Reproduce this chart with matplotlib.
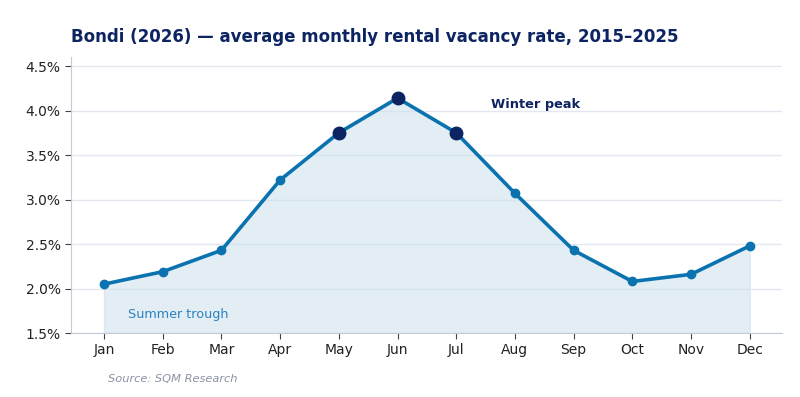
import numpy as np
import matplotlib.pyplot as plt

months = ['Jan', 'Feb', 'Mar', 'Apr', 'May', 'Jun', 'Jul', 'Aug', 'Sep', 'Oct', 'Nov', 'Dec']
vacancy = [2.05, 2.19, 2.43, 3.22, 3.75, 4.14, 3.75, 3.07, 2.43, 2.08, 2.16, 2.48]
peak_months = [4, 5, 6]
yticks = [1.5, 2.0, 2.5, 3.0, 3.5, 4.0, 4.5]

line_col = '#0b72b0'
navy = '#0d2463'

fig = plt.figure(figsize=(8, 3.97), dpi=100)
ax = fig.add_axes([0.089, 0.161, 0.8885, 0.695])

x = np.arange(len(months))
ax.fill_between(x, vacancy, 1.5, color='#cfe1ee', alpha=0.6, zorder=1)
ax.plot(x, vacancy, color=line_col, lw=2.6, marker='o', ms=6, zorder=3)
px = [x[i] for i in peak_months]
py = [vacancy[i] for i in peak_months]
ax.plot(px, py, 'o', color=navy, ms=9, zorder=4)

ax.set_xlim(-0.56, 11.55)
ax.set_ylim(1.5, 4.6)
ax.set_xticks(x)
ax.set_xticklabels(months)
ax.set_yticks(yticks)
ax.set_yticklabels([f'{v:.1f}%' for v in yticks])
ax.tick_params(labelsize=10, colors='#222222', length=4)
ax.tick_params(axis='both', color='#444444')

ax.grid(axis='y', color='#e3e8f0', lw=1)
ax.set_axisbelow(True)
for s in ['top', 'right']:
    ax.spines[s].set_visible(False)
for s in ['left', 'bottom']:
    ax.spines[s].set_color('#c5cbdb')

ax.text(6.6, 4.03, 'Winter peak', fontsize=9.3, fontweight='bold', color=navy)
ax.text(0.4, 1.67, 'Summer trough', fontsize=9.2, color='#2a82c0')

fig.text(0.089, 0.893, 'Bondi (2026) — average monthly rental vacancy rate, 2015–2025',
         fontsize=12, fontweight='bold', color=navy)
fig.text(0.135, 0.038, 'Source: SQM Research', fontsize=8.2, style='italic', color='#8a93a3')

fig.savefig('out.png', dpi=100, facecolor='white')
